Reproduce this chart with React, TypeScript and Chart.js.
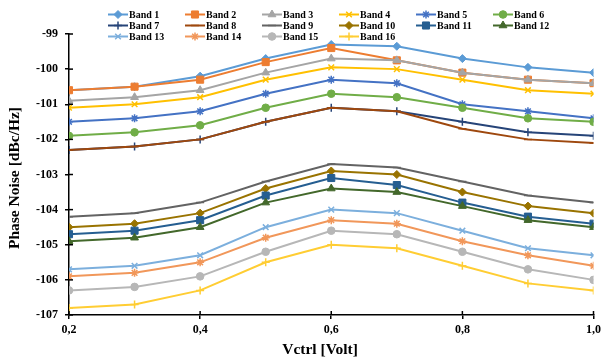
import React, { useEffect, useRef } from 'react';
import { Chart, registerables } from 'chart.js';
import { drawPoint } from 'chart.js/helpers';

Chart.register(...registerables);

const vctrl = [0.2, 0.3, 0.4, 0.5, 0.6, 0.7, 0.8, 0.9, 1.0];
const xTicks = [0.2, 0.4, 0.6, 0.8, 1.0];
const yTicks = [-99, -100, -101, -102, -103, -104, -105, -106, -107];
const xTitle = 'Vctrl [Volt]';
const yTitle = 'Phase Noise [dBc/Hz]';

const band1 = [-100.6, -100.5, -100.2, -99.7, -99.3, -99.35, -99.7, -99.95, -100.1];
const band2 = [-100.6, -100.5, -100.3, -99.8, -99.4, -99.75, -100.1, -100.3, -100.4];
const band3 = [-100.9, -100.8, -100.6, -100.1, -99.7, -99.75, -100.1, -100.3, -100.4];
const band4 = [-101.1, -101.0, -100.8, -100.3, -99.95, -100.0, -100.3, -100.6, -100.7];
const band5 = [-101.5, -101.4, -101.2, -100.7, -100.3, -100.4, -101.0, -101.2, -101.4];
const band6 = [-101.9, -101.8, -101.6, -101.1, -100.7, -100.8, -101.1, -101.4, -101.5];
const band7 = [-102.3, -102.2, -102.0, -101.5, -101.1, -101.2, -101.5, -101.8, -101.9];
const band8 = [-102.3, -102.2, -102.0, -101.5, -101.1, -101.2, -101.7, -102.0, -102.1];
const band9 = [-104.2, -104.1, -103.8, -103.2, -102.7, -102.8, -103.2, -103.6, -103.8];
const band10 = [-104.5, -104.4, -104.1, -103.4, -102.9, -103.0, -103.5, -103.9, -104.1];
const band11 = [-104.7, -104.6, -104.3, -103.6, -103.1, -103.3, -103.8, -104.2, -104.4];
const band12 = [-104.9, -104.8, -104.5, -103.8, -103.4, -103.5, -103.9, -104.3, -104.5];
const band13 = [-105.7, -105.6, -105.3, -104.5, -104.0, -104.1, -104.6, -105.1, -105.3];
const band14 = [-105.9, -105.8, -105.5, -104.8, -104.3, -104.4, -104.9, -105.3, -105.6];
const band15 = [-106.3, -106.2, -105.9, -105.2, -104.6, -104.7, -105.2, -105.7, -106.0];
const band16 = [-106.8, -106.7, -106.3, -105.5, -105.0, -105.1, -105.6, -106.1, -106.3];

const seriesValues = [band1, band2, band3, band4, band5, band6, band7, band8, band9, band10, band11, band12, band13, band14, band15, band16];
const seriesNames = ['Band 1', 'Band 2', 'Band 3', 'Band 4', 'Band 5', 'Band 6', 'Band 7', 'Band 8', 'Band 9', 'Band 10', 'Band 11', 'Band 12', 'Band 13', 'Band 14', 'Band 15', 'Band 16'];
const seriesColors = ['#5B9BD5', '#ED7D31', '#A5A5A5', '#FFC000', '#4472C4', '#70AD47', '#264478', '#9E480E', '#636363', '#997300', '#255E91', '#43682B', '#7CAFDD', '#F1975A', '#B7B7B7', '#FFCD33'];
const seriesMarkers = ['rectRot', 'rect', 'triangle', 'crossRot', 'star', 'circle', 'cross', 'line', 'line', 'rectRot', 'rect', 'triangle', 'crossRot', 'star', 'circle', 'cross'];

const markerRadius: Record<string, number> = {
  rectRot: 4, rect: 5, triangle: 4.5, crossRot: 4, star: 4, circle: 3.8, cross: 4, line: 4,
};

const FONT = "'Liberation Serif', 'Times New Roman', serif";

const crossTicks = {
  id: 'crossTicks',
  afterDraw(chart: any) {
    const { ctx, chartArea, scales } = chart;
    ctx.save();
    ctx.strokeStyle = '#000';
    ctx.lineWidth = 1.5;
    scales.x.ticks.forEach((t: any) => {
      const px = scales.x.getPixelForValue(t.value);
      ctx.beginPath();
      ctx.moveTo(px, chartArea.bottom);
      ctx.lineTo(px, chartArea.bottom - 4);
      ctx.stroke();
    });
    scales.y.ticks.forEach((t: any) => {
      const py = scales.y.getPixelForValue(t.value);
      ctx.beginPath();
      ctx.moveTo(chartArea.left, py);
      ctx.lineTo(chartArea.left + 4, py);
      ctx.stroke();
    });
    ctx.restore();
  },
};

const axisTitles = {
  id: 'axisTitles',
  afterDraw(chart: any) {
    const ctx = chart.ctx;
    ctx.save();
    ctx.fillStyle = '#000';
    ctx.font = `bold 15.5px ${FONT}`;
    ctx.textAlign = 'center';
    ctx.textBaseline = 'middle';
    ctx.fillText(xTitle, 320, 350);
    ctx.translate(15, 178);
    ctx.rotate(-Math.PI / 2);
    ctx.fillText(yTitle, 0, 0);
    ctx.restore();
  },
};

const gridLegend = {
  id: 'gridLegend',
  afterDraw(chart: any) {
    const ctx = chart.ctx;
    ctx.save();
    ctx.font = `bold 10px ${FONT}`;
    ctx.textBaseline = 'middle';
    ctx.textAlign = 'left';
    chart.data.datasets.forEach((ds: any, i: number) => {
      const col = i % 6;
      const row = Math.floor(i / 6);
      const x0 = 108 + col * 77;
      const y = 14.5 + row * 11;
      ctx.strokeStyle = ds.borderColor;
      ctx.fillStyle = ds.borderColor;
      ctx.lineWidth = 2;
      ctx.beginPath();
      ctx.moveTo(x0, y);
      ctx.lineTo(x0 + 20, y);
      ctx.stroke();
      ctx.lineWidth = ds.pointBorderWidth;
      drawPoint(ctx, { pointStyle: ds.pointStyle, radius: ds.pointRadius, borderWidth: ds.pointBorderWidth, rotation: 0 } as any, x0 + 10, y);
      ctx.fillStyle = '#000';
      ctx.fillText(ds.label, x0 + 21, y + 0.5);
    });
    ctx.restore();
  },
};

export default function App() {
  const canvasRef = useRef<HTMLCanvasElement>(null);

  useEffect(() => {
    if (!canvasRef.current) return;
    const datasets = seriesValues.map((vals, i) => ({
      label: seriesNames[i],
      data: vals.map((v, j) => ({ x: vctrl[j], y: v })),
      borderColor: seriesColors[i],
      backgroundColor: seriesColors[i],
      pointBackgroundColor: seriesColors[i],
      pointBorderColor: seriesColors[i],
      pointStyle: seriesMarkers[i],
      pointRadius: markerRadius[seriesMarkers[i]],
      pointBorderWidth: ['cross', 'crossRot', 'star', 'line'].includes(seriesMarkers[i]) ? 1.5 : 1,
      borderWidth: 2,
      tension: 0,
      fill: false,
      order: 16 - i,
    }));

    const chart = new Chart(canvasRef.current, {
      type: 'line',
      data: { datasets },
      options: {
        animation: false,
        responsive: false,
        devicePixelRatio: 1,
        layout: { padding: { top: 34, right: 8, left: 0, bottom: 0 }, autoPadding: false } as any,
        plugins: {
          legend: { display: false },
          tooltip: { enabled: false },
        },
        scales: {
          x: {
            type: 'linear',
            min: 0.2,
            max: 1.0,
            afterFit: (s: any) => { s.height = 48; },
            afterBuildTicks: (s: any) => { s.ticks = xTicks.map((v) => ({ value: v })); },
            ticks: {
              color: '#000',
              padding: 4,
              maxRotation: 0,
              font: { family: FONT, size: 12, weight: 'bold' },
              callback: (v: any) => Number(v).toFixed(1).replace('.', ','),
            },
            grid: { display: true, drawOnChartArea: false, tickLength: 4, color: '#000', lineWidth: 1.5 },
            border: { display: true, color: '#000', width: 1.5 },
            title: { display: false },
          },
          y: {
            type: 'linear',
            min: -107,
            max: -99,
            afterFit: (s: any) => { s.width = 69; },
            afterBuildTicks: (s: any) => { s.ticks = yTicks.map((v) => ({ value: v })); },
            ticks: {
              color: '#000',
              padding: 7,
              font: { family: FONT, size: 12, weight: 'bold' },
              callback: (v: any) => String(v),
            },
            grid: { display: true, drawOnChartArea: false, tickLength: 4, color: '#000', lineWidth: 1.5 },
            border: { display: true, color: '#000', width: 1.5 },
            title: { display: false },
          },
        },
      },
      plugins: [crossTicks, axisTitles, gridLegend],
    } as any);

    return () => chart.destroy();
  }, []);

  return (
    <div style={{ position: 'fixed', left: 0, top: 0, width: 605, height: 363, background: '#fff' }}>
      <canvas ref={canvasRef} width={605} height={363} style={{ display: 'block', width: 605, height: 363 }} />
    </div>
  );
}
